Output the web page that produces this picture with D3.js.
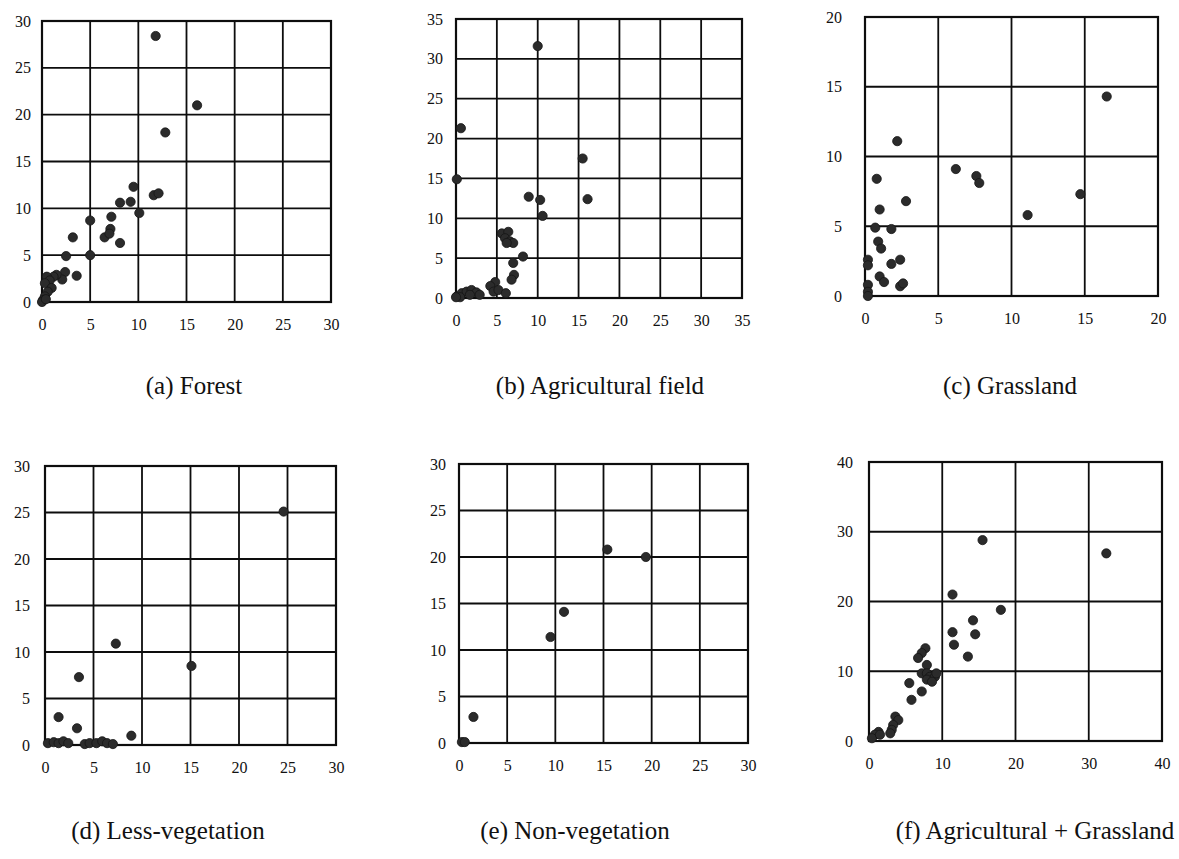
<!DOCTYPE html>
<html>
<head>
<meta charset="utf-8">
<script src="https://cdn.jsdelivr.net/npm/d3@7"></script>
<style>
  html, body { margin: 0; padding: 0; background: #fff; }
  svg { display: block; }
  svg text { font-family: "Liberation Serif", "Times New Roman", Times, "DejaVu Serif", serif; fill: #111; }
</style>
</head>
<body>
<svg id="chart" width="1179" height="859"></svg>
<script>
// ---- data ----
const panelTitles = ["(a) Forest", "(b) Agricultural field", "(c) Grassland",
                     "(d) Less-vegetation", "(e) Non-vegetation", "(f) Agricultural + Grassland"];
const axisMax = [30, 35, 20, 30, 30, 40];
const tickStep = [5, 5, 5, 5, 5, 10];

const forest = [[11.8,28.4],[16.1,21.0],[12.8,18.1],[9.5,12.3],[11.6,11.4],[12.1,11.6],[8.1,10.6],[9.2,10.7],[10.1,9.5],[5.0,8.7],[7.2,9.1],[7.1,7.8],[6.5,6.9],[7.0,7.3],[8.1,6.3],[3.2,6.9],[2.5,4.9],[5.0,5.0],[3.6,2.8],[2.4,3.2],[2.1,2.4],[1.5,2.9],[1.2,2.7],[0.5,2.7],[0.8,2.3],[0.3,2.0],[1.0,1.5],[0.6,1.1],[0.3,0.6],[0.1,0.2],[0.0,0.0],[0.4,0.3]];
const agricultural = [[10.0,31.6],[0.6,21.3],[0.1,14.9],[15.5,17.5],[16.1,12.4],[8.9,12.7],[10.3,12.3],[10.6,10.3],[5.6,8.1],[6.4,8.3],[6.0,7.5],[6.6,7.1],[7.0,6.9],[6.2,6.9],[8.2,5.2],[7.0,4.4],[7.1,2.9],[6.8,2.3],[4.8,2.0],[4.2,1.5],[4.6,0.8],[5.2,1.0],[6.1,0.6],[0.1,0.2],[0.7,0.6],[1.3,0.8],[1.9,1.0],[2.5,0.7],[2.9,0.4],[0.5,0.1],[1.7,0.4],[0.0,0.1]];
const grassland = [[16.5,14.3],[2.2,11.1],[6.2,9.1],[7.6,8.6],[7.8,8.1],[14.7,7.3],[11.1,5.8],[0.8,8.4],[2.8,6.8],[1.0,6.2],[0.7,4.9],[1.8,4.8],[0.9,3.9],[1.1,3.4],[0.2,2.6],[0.2,2.2],[1.8,2.3],[2.4,2.6],[1.0,1.4],[1.3,1.0],[2.4,0.7],[2.6,0.9],[0.2,0.8],[0.2,0.3],[0.2,0.0]];
const lessVegetation = [[24.6,25.1],[7.3,10.9],[15.1,8.5],[3.5,7.3],[1.4,3.0],[3.3,1.8],[8.9,1.0],[0.3,0.2],[0.9,0.3],[1.4,0.2],[1.9,0.4],[2.4,0.2],[4.1,0.1],[4.6,0.2],[5.3,0.2],[5.9,0.4],[6.4,0.2],[7.0,0.1]];
const nonVegetation = [[15.4,20.8],[19.4,20.0],[10.9,14.1],[9.5,11.4],[1.5,2.8],[0.3,0.1],[0.6,0.1]];
const agriGrass = [[15.5,28.8],[32.4,26.9],[11.4,21.0],[18.0,18.8],[14.2,17.3],[14.5,15.3],[11.4,15.6],[11.6,13.8],[13.5,12.1],[7.7,13.3],[7.2,12.6],[6.7,11.9],[7.9,10.9],[7.2,9.7],[7.9,9.7],[8.3,9.2],[9.0,9.2],[7.9,8.8],[8.6,8.5],[9.2,9.7],[5.5,8.3],[7.2,7.1],[5.8,5.9],[3.6,3.5],[4.0,3.0],[3.3,2.3],[3.1,1.6],[2.9,1.1],[1.3,1.3],[0.8,0.9],[0.4,0.4],[1.5,0.9]];
const panelData = [forest, agricultural, grassland, lessVegetation, nonVegetation, agriGrass];

// ---- layout (pixel boxes of each plot area, caption position) ----
const boxes = [
  {x0: 42,  x1: 331,  y0: 21,  y1: 302, ygap: 11, tx: 194,  ty: 394},
  {x0: 456, x1: 742,  y0: 19,  y1: 298, ygap: 13, tx: 600,  ty: 394},
  {x0: 865, x1: 1158, y0: 17,  y1: 296, ygap: 23, tx: 1010, ty: 394},
  {x0: 45,  x1: 336,  y0: 466, y1: 745, ygap: 15, tx: 168,  ty: 839},
  {x0: 459, x1: 748,  y0: 464, y1: 743, ygap: 13, tx: 575,  ty: 839},
  {x0: 869, x1: 1162, y0: 462, y1: 741, ygap: 16, tx: 1035, ty: 839}
];

const svg = d3.select("#chart");

panelData.forEach((pts, i) => {
  const b = boxes[i];
  const max = axisMax[i];
  const ticks = d3.range(0, max + 0.001, tickStep[i]);
  const x = d3.scaleLinear().domain([0, max]).range([b.x0, b.x1]);
  const y = d3.scaleLinear().domain([0, max]).range([b.y1, b.y0]);
  const g = svg.append("g");

  // grid lines
  g.append("g").selectAll("line").data(ticks).join("line")
    .attr("x1", d => x(d)).attr("x2", d => x(d))
    .attr("y1", b.y0).attr("y2", b.y1)
    .attr("stroke", "#0d0d0d").attr("stroke-width", 1.8);
  g.append("g").selectAll("line").data(ticks).join("line")
    .attr("x1", b.x0).attr("x2", b.x1)
    .attr("y1", d => y(d)).attr("y2", d => y(d))
    .attr("stroke", "#0d0d0d").attr("stroke-width", 1.8);
  g.append("rect")
    .attr("x", b.x0).attr("y", b.y0)
    .attr("width", b.x1 - b.x0).attr("height", b.y1 - b.y0)
    .attr("fill", "none").attr("stroke", "#0d0d0d").attr("stroke-width", 2.2);

  // axes (labels only, via d3 axes)
  const xAxis = d3.axisBottom(x).tickValues(ticks).tickSize(0).tickPadding(0).tickFormat(d3.format("d"));
  const xg = g.append("g").attr("transform", `translate(0,${b.y1 + 17})`).call(xAxis);
  xg.select(".domain").remove();
  xg.attr("font-family", null);
  xg.selectAll("text").attr("font-size", 16).attr("fill", "#111");

  const yAxis = d3.axisLeft(y).tickValues(ticks).tickSize(0).tickPadding(b.ygap).tickFormat(d3.format("d"));
  const yg = g.append("g").attr("transform", `translate(${b.x0},0)`).call(yAxis);
  yg.select(".domain").remove();
  yg.attr("font-family", null);
  yg.selectAll("text").attr("font-size", 16).attr("fill", "#111");

  // points
  g.append("g").selectAll("circle").data(pts).join("circle")
    .attr("cx", d => x(d[0])).attr("cy", d => y(d[1]))
    .attr("r", 4.6)
    .attr("fill", "#2b2b2b").attr("stroke", "#151515").attr("stroke-width", 0.8);

  // caption
  g.append("text")
    .attr("x", b.tx)
    .attr("y", b.ty)
    .attr("text-anchor", "middle")
    .attr("font-size", 25)
    .text(panelTitles[i]);
});
</script>
</body>
</html>
